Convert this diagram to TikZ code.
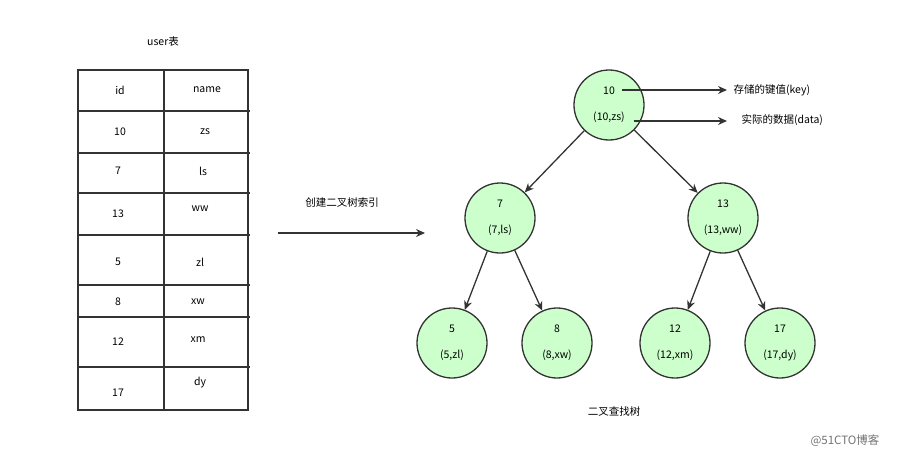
\documentclass[tikz,border=0pt]{standalone}
\usepackage{fontspec}
\setmainfont{Noto Sans CJK SC}
\usetikzlibrary{arrows.meta}
\definecolor{nodegreen}{HTML}{CCFFCC}
\begin{document}
\begin{tikzpicture}[x=1pt,y=-1pt,font=\fontsize{10.5}{12}\selectfont,
    treenode/.style={draw, line width=1.3pt, draw=black!80, circle, fill=nodegreen, minimum size=70pt, inner sep=0pt, align=center},
    arr/.style={-{Stealth[length=9pt,width=8pt]}, line width=1.3pt, draw=black!80}]
\useasboundingbox (0,0) rectangle (904,460);
% table
\draw[line width=1.3pt, draw=black!80] (78,70) rectangle (248,410);
\draw[line width=1.3pt, draw=black!80] (164,70) -- (164,410);
\foreach \y in {111,153,193,235,285,317,367}
  \draw[line width=1.3pt, draw=black!80] (78,\y) -- (250,\y);
\node (title) at (163,42) {user表};
\node (hid) at (120,90) {id};
\node (hname) at (207,90) {name};
\node (id1) at (120,132) {10}; \node (nm1) at (205,132) {zs};
\node (id2) at (118,171) {7};  \node (nm2) at (203,171) {ls};
\node (id3) at (118,214) {13}; \node (nm3) at (200,209) {ww};
\node (id4) at (118,262) {5};  \node (nm4) at (200,262) {zl};
\node (id5) at (118,302) {8};  \node (nm5) at (198,302) {xw};
\node (id6) at (118,342) {12}; \node (nm6) at (198,340) {xm};
\node (id7) at (118,393) {17}; \node (nm7) at (200,383) {dy};
% index arrow
\coordinate (from) at (278,233);
\coordinate (to) at (425,233);
\draw[arr] (from) -- (to);
\node (build) at (342,203) {创建二叉树索引};
% tree
\node[treenode] (n10) at (609,105) {10\\[14pt](10,zs)};
\node[treenode] (n7) at (500,218) {7\\[14pt](7,ls)};
\node[treenode] (n13) at (723,218) {13\\[14pt](13,ww)};
\node[treenode] (n5) at (452,343) {5\\[14pt](5,zl)};
\node[treenode] (n8) at (557,343) {8\\[14pt](8,xw)};
\node[treenode] (n12) at (675,343) {12\\[14pt](12,xm)};
\node[treenode] (n17) at (780,343) {17\\[14pt](17,dy)};
\draw[arr] (n10) -- (n7);
\draw[arr] (n10) -- (n13);
\draw[arr] (n7) -- (n5);
\draw[arr] (n7) -- (n8);
\draw[arr] (n13) -- (n12);
\draw[arr] (n13) -- (n17);
% annotations
\coordinate (keyend) at (727,90);
\coordinate (dataend) at (727,121);
\draw[arr] (622,90) -- (keyend);
\draw[arr] (634,121) -- (dataend);
\node[anchor=west] (key) at (730,90) {存储的键值(key)};
\node[anchor=west] (data) at (738,120) {实际的数据(data)};
\node (bst) at (614,412) {二叉查找树};
\node[text=black!55, font=\fontsize{11.5}{13}\selectfont] (mark) at (845,441) {@51CTO博客};
\end{tikzpicture}
\end{document}
